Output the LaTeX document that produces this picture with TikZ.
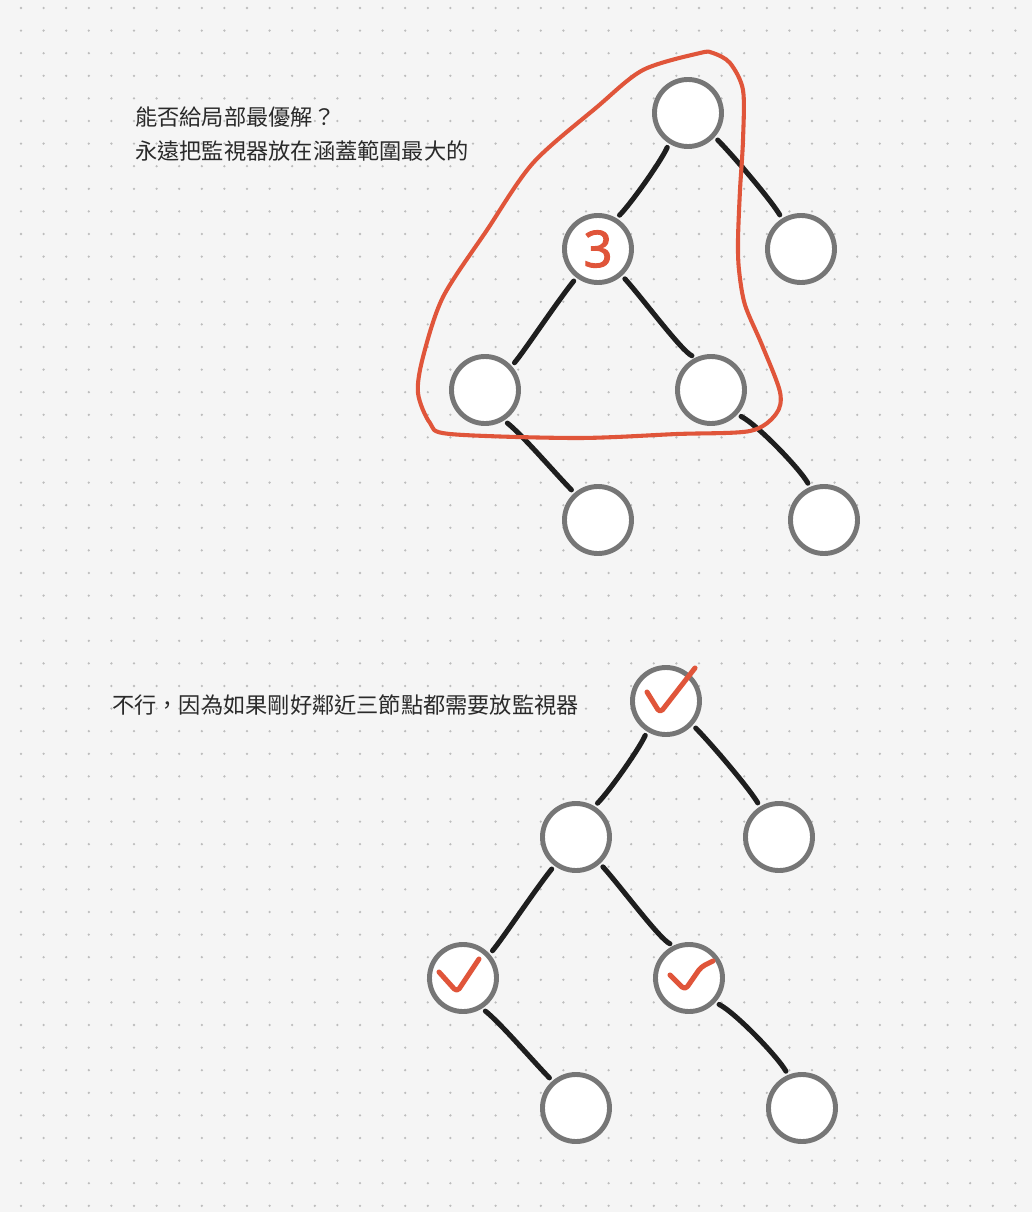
\documentclass[tikz,border=0pt]{standalone}
\usepackage{fontspec}
\usepackage{tikz}
\usetikzlibrary{
	arrows.meta,
	positioning,
	calc
}
\usepackage{xcolor}
\newfontfamily\cjk{Noto Sans CJK TC}
\newfontfamily\numfont[FakeBold=2]{Noto Sans}

\definecolor{paper}{HTML}{F5F5F5}
\definecolor{gridgray}{HTML}{BDBDBD}
\definecolor{ringgray}{HTML}{767676}
\definecolor{inkblack}{HTML}{1E1E1E}
\definecolor{penred}{HTML}{E0553A}
\definecolor{txtgray}{HTML}{2A2A2A}

\tikzset{
	vtx/.style={circle, draw=ringgray, fill=white, line width=3.5pt, minimum size=1.675cm, inner sep=0pt},
	edge/.style={draw=inkblack, line width=3.6pt, line cap=round, shorten <=3pt, shorten >=3pt},
	lasso/.style={draw=penred, line width=2.9pt, line cap=round, line join=round},
	tick/.style={draw=penred, line width=3.6pt, line cap=round, line join=round, rounded corners=3pt},
	note/.style={anchor=west, inner sep=0pt, text=txtgray, font=\cjk\fontsize{15.8pt}{19pt}\selectfont}
}

% one binary tree, nodes #10 ... #16
\newcommand{\bintree}[1]{%
	\node[vtx] (#10) at (688,113) {};
	\node[vtx] (#11) at (598,249) {};
	\node[vtx] (#12) at (801,249) {};
	\node[vtx] (#13) at (485,390) {};
	\node[vtx] (#14) at (711,390) {};
	\node[vtx] (#15) at (598,520) {};
	\node[vtx] (#16) at (824,520) {};
	\draw[edge] (#10.238) .. controls +(-8,18) and +(14,-14) .. (#11.59);
	\draw[edge] (#10.318) .. controls +(16,16) and +(-12,-20) .. (#12.122);
	\draw[edge] (#11.233) .. controls +(-20,25) and +(12,-14) .. (#13.42);
	\draw[edge] (#11.312) .. controls +(20,22) and +(-14,-6) .. (#14.115);
	\draw[edge] (#13.302) .. controls +(18,14) and +(-16,-16) .. (#15.131);
	\draw[edge] (#14.317) .. controls +(20,10) and +(-10,-18) .. (#16.113);
}

\begin{document}
\begin{tikzpicture}[x=0.025cm,y=-0.025cm]
	
	% dotted paper
	\useasboundingbox (0,0) rectangle (1032,1212);
	\fill[paper] (0,0) rectangle (1032,1212);
	\foreach \i in {0,...,44}
	\foreach \j in {0,...,53}
	\fill[gridgray] (21+22.6*\i,8+22.6*\j) circle (0.9pt);
	
	% question
	\node[note] (q1) at (135,117) {能否給局部最優解？};
	\node[note] (q2) at (135,151) {永遠把監視器放在涵蓋範圍最大的};
	
	% first tree
	\bintree{t}
	\node[text=penred, inner sep=0pt, font=\numfont\fontsize{36pt}{36pt}\selectfont] (cnt) at (t1) {3};
	
	% covered part
	\draw[lasso] plot[smooth cycle, tension=0.5] coordinates {
		(713,53) (730,63) (743,90) (743,140) (740,190) (738,240) (739,270)
		(745,305) (762,345) (780,392) (776,414) (750,431) (677,434) (577,438)
		(450,434) (430,423) (418,393) (423,357) (443,297) (487,230) (533,163)
		(597,107) (643,70) (700,53)};
	
	% answer
	\node[note] (a1) at (112,705) {不行，因為如果剛好鄰近三節點都需要放監視器};
	
	% second tree
	\begin{scope}[shift={(-22,588)}]
		\bintree{b}
	\end{scope}
	
	% cameras
	\draw[tick] (b0) ++(-19,-9) -- ++(13,21) -- ++(35,-45);
	\draw[tick] (b3) ++(-24,-6) -- ++(18,20) -- ++(22,-33);
	\draw[tick] (b4) ++(-19,-3) -- ++(15,15) -- ++(16,-23) -- ++(12,-6);
	
\end{tikzpicture}
\end{document}
